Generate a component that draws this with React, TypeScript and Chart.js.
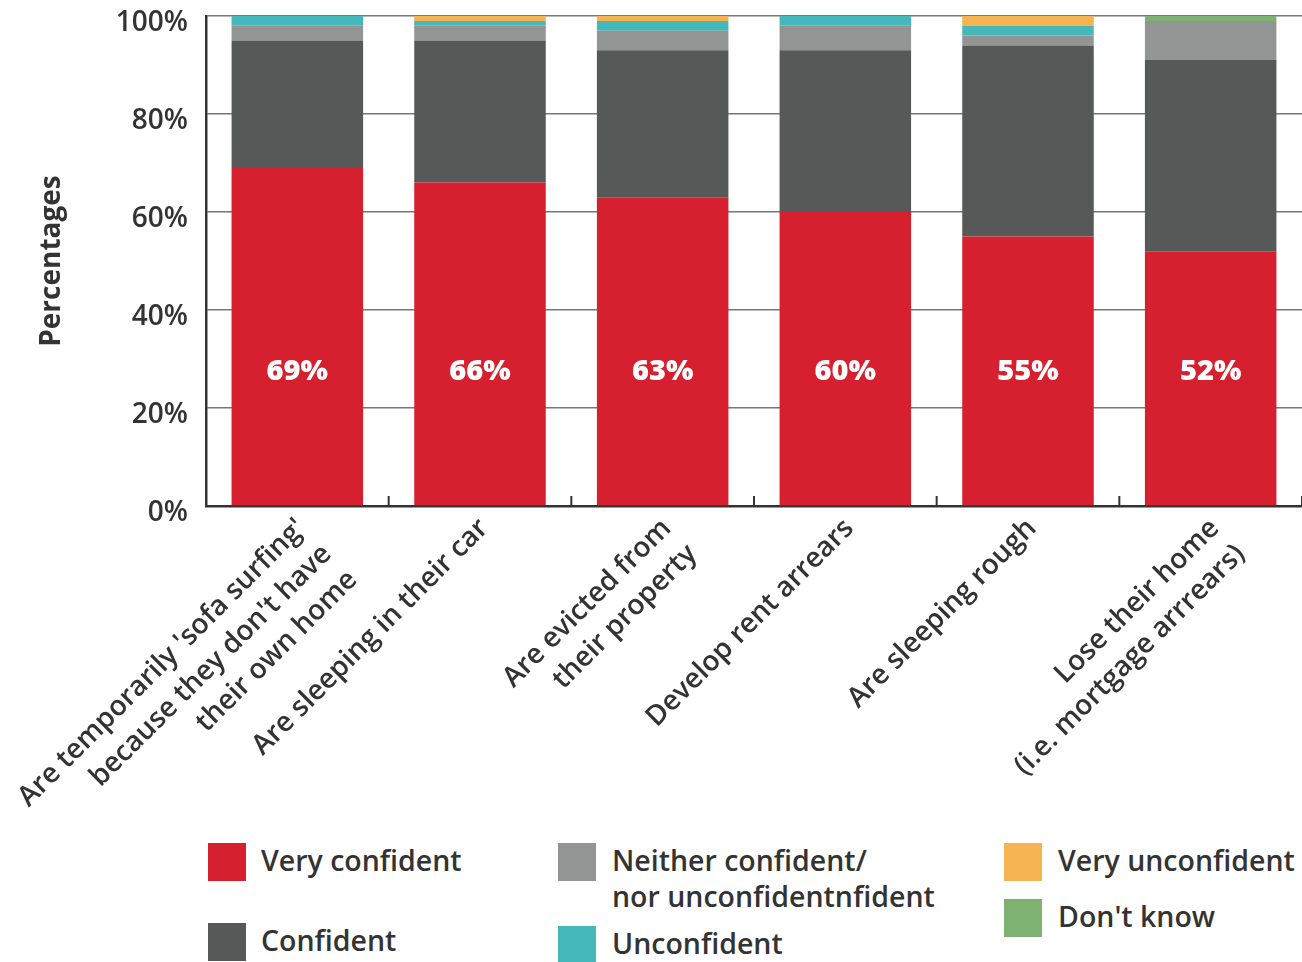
import React, { useEffect, useRef } from "react";
import { Chart, registerables } from "chart.js";

Chart.register(...registerables);

const categories: (string | string[])[] = [
  ["Are temporarily 'sofa surfing'", "because they don't have", "their own home"],
  "Are sleeping in their car",
  ["Are evicted from", "their property"],
  "Develop rent arrears",
  "Are sleeping rough",
  ["Lose their home", "(i.e. mortgage arrrears)"],
];

const veryConfident = [69, 66, 63, 60, 55, 52];
const confident = [26, 29, 30, 33, 39, 39];
const neither = [3, 3, 4, 5, 2, 8];
const unconfident = [2, 1, 2, 2, 2, 0];
const veryUnconfident = [0, 1, 1, 0, 2, 0];
const dontKnow = [0, 0, 0, 0, 0, 1];

const yTicks = [0, 20, 40, 60, 80, 100];
const labelValue = 27.5;

const seriesNames = [
  "Very confident",
  "Confident",
  "Neither confident/\nnor unconfidentnfident",
  "Unconfident",
  "Very unconfident",
  "Don't know",
];
const colors = ["#D6202F", "#575958", "#939594", "#45B9BA", "#F5B351", "#7FB171"];

const FONT = "'Open Sans', 'DejaVu Sans', sans-serif";
const TEXT = "#333333";

const innerTicks = {
  id: "innerTicks",
  afterDatasetsDraw(chart: any) {
    const x = chart.scales.x;
    const y = chart.scales.y;
    const ctx = chart.ctx;
    const n = chart.data.labels.length;
    ctx.save();
    ctx.strokeStyle = "#333";
    ctx.lineWidth = 2;
    const bottom = y.getPixelForValue(0);
    for (let i = 0; i < n; i++) {
      const c = x.getPixelForValue(i);
      const half = (x.width / n) / 2;
      const bx = c + half;
      ctx.beginPath();
      ctx.moveTo(bx, bottom);
      ctx.lineTo(bx, bottom - 10);
      ctx.stroke();
    }
    ctx.fillStyle = "#ffffff";
    ctx.font = `800 29px ${FONT}`;
    ctx.textAlign = "center";
    ctx.textBaseline = "middle";
    const ly = y.getPixelForValue(labelValue);
    chart.data.datasets[0].data.forEach((v: number, i: number) => {
      ctx.fillText(`${v}%`, x.getPixelForValue(i), ly);
    });
    ctx.restore();
  },
};

function ChartView() {
  const ref = useRef<HTMLCanvasElement | null>(null);
  useEffect(() => {
    if (!ref.current) return;
    const data = [veryConfident, confident, neither, unconfident, veryUnconfident, dontKnow];
    const chart = new Chart(ref.current, {
      type: "bar",
      data: {
        labels: categories,
        datasets: data.map((d, i) => ({
          label: seriesNames[i],
          data: d,
          backgroundColor: colors[i],
          borderWidth: 0,
          barPercentage: 0.72,
          categoryPercentage: 1,
        })),
      },
      options: {
        responsive: false,
        animation: false,
        layout: { padding: { top: 16, left: 0, right: 0, bottom: 0 } },
        plugins: { legend: { display: false }, tooltip: { enabled: false } },
        scales: {
          x: {
            stacked: true,
            grid: { display: false, drawTicks: false },
            border: { display: true, color: "#333", width: 2.5 },
            ticks: {
              autoSkip: false,
              minRotation: 45,
              maxRotation: 45,
              padding: 5,
              labelOffset: 4,
              color: TEXT,
              font: { family: FONT, size: 28, weight: "600", lineHeight: 1.3 },
            },
            afterFit(scale: any) {
              scale.height = 314;
              scale.paddingLeft = 0;
              scale.paddingRight = 0;
              scale.paddingTop = 0;
              scale.paddingBottom = 0;
            },
          },
          y: {
            stacked: true,
            min: 0,
            max: 100,
            afterBuildTicks(scale: any) {
              scale.ticks = yTicks.map((v) => ({ value: v }));
            },
            grid: { color: "#777", lineWidth: 1.5, drawTicks: false },
            border: { display: true, color: "#333", width: 2.5 },
            ticks: {
              padding: 18,
              labelOffset: 7,
              color: TEXT,
              font: { family: FONT, size: 28, weight: "600" },
              callback: (v: any) => `${v}%`,
            },
            title: {
              display: true,
              text: "Percentages",
              color: TEXT,
              font: { family: FONT, size: 28, weight: "700", lineHeight: 1.2 },
              padding: { top: 35, bottom: 0 },
            },
            afterFit(scale: any) {
              scale.width = 206;
              scale.paddingTop = 0;
              scale.paddingBottom = 0;
              scale.paddingLeft = 0;
              scale.paddingRight = 0;
            },
          },
        },
      },
      plugins: [innerTicks],
    });
    return () => chart.destroy();
  }, []);
  return <canvas ref={ref} width={1302} height={820} style={{ position: "absolute", left: 0, top: 0 }} />;
}

const legendLayout = [
  { box: [208, 843], text: [261, 843] },
  { box: [208, 923], text: [261, 923] },
  { box: [558, 843], text: [612, 843] },
  { box: [558, 926], text: [612, 926] },
  { box: [1004, 843], text: [1058, 843] },
  { box: [1004, 899], text: [1058, 899] },
];

export default function App() {
  return (
    <div style={{ position: "absolute", left: 0, top: 0, width: 1302, height: 962, background: "#fff", overflow: "hidden" }}>
      <ChartView />
      {seriesNames.map((name, i) => (
        <React.Fragment key={name}>
          <div
            style={{
              position: "absolute",
              left: legendLayout[i].box[0],
              top: legendLayout[i].box[1],
              width: 38,
              height: 38,
              background: colors[i],
            }}
          />
          <div
            style={{
              position: "absolute",
              left: legendLayout[i].text[0],
              top: legendLayout[i].text[1] - 1,
              fontFamily: FONT,
              fontWeight: 600,
              fontSize: 28.5,
              lineHeight: "36px",
              color: TEXT,
              whiteSpace: "pre",
            }}
          >
            {name}
          </div>
        </React.Fragment>
      ))}
    </div>
  );
}
